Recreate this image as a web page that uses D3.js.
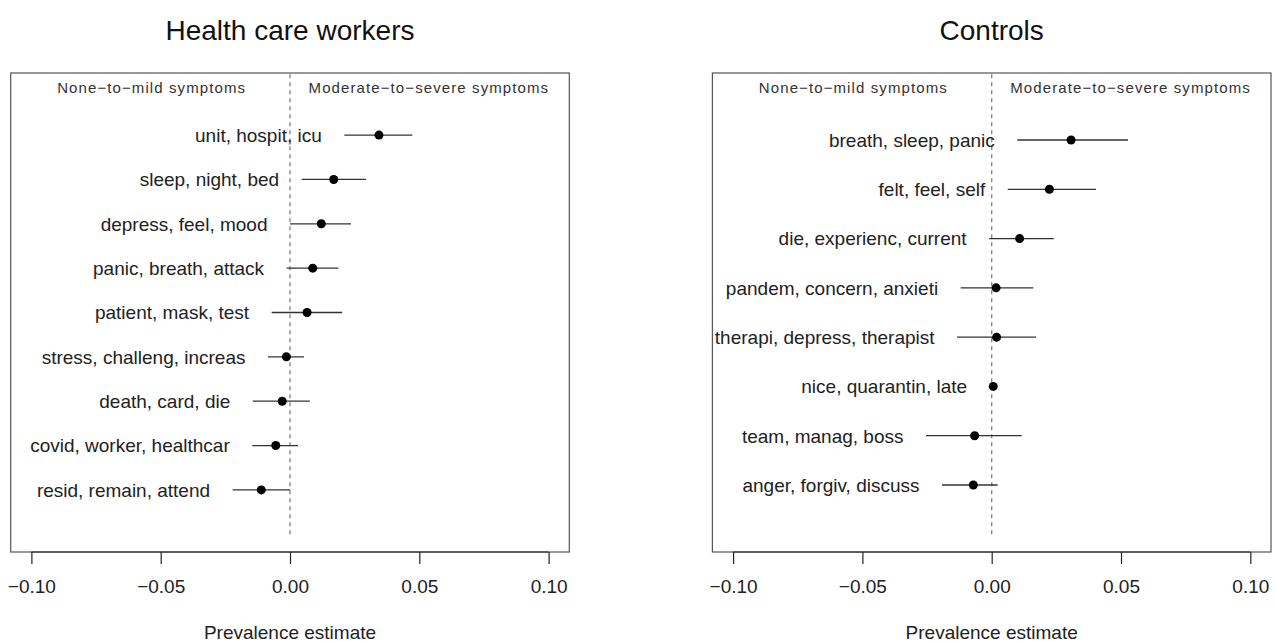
<!DOCTYPE html>
<html><head><meta charset="utf-8">
<script src="https://cdn.jsdelivr.net/npm/d3@7"></script>
<style>
body{margin:0;background:#fff}
text{font-family:"Liberation Sans",Arial,Helvetica,sans-serif}
</style>
</head><body>
<svg id="chart" width="1277" height="643"></svg>
<script>
// ---- data ----
const hcwLabels = ["unit, hospit, icu", "sleep, night, bed", "depress, feel, mood", "panic, breath, attack", "patient, mask, test", "stress, challeng, increas", "death, card, die", "covid, worker, healthcar", "resid, remain, attend"];
const hcwEst = [0.0344, 0.0169, 0.0121, 0.0088, 0.0066, -0.0014, -0.0030, -0.0055, -0.0111];
const hcwLo  = [0.0210, 0.0045, 0.0000, -0.0013, -0.0071, -0.0085, -0.0144, -0.0146, -0.0222];
const hcwHi  = [0.0473, 0.0294, 0.0236, 0.0187, 0.0202, 0.0054, 0.0077, 0.0031, 0.0000];

const ctlLabels = ["breath, sleep, panic", "felt, feel, self", "die, experienc, current", "pandem, concern, anxieti", "therapi, depress, therapist", "nice, quarantin, late", "team, manag, boss", "anger, forgiv, discuss"];
const ctlEst = [0.0307, 0.0223, 0.0108, 0.0017, 0.0019, 0.0006, -0.0066, -0.0071];
const ctlLo  = [0.0099, 0.0062, -0.0010, -0.0120, -0.0134, -0.0008, -0.0254, -0.0192];
const ctlHi  = [0.0527, 0.0403, 0.0240, 0.0161, 0.0171, 0.0018, 0.0116, 0.0023];

const xTicks = [-0.10, -0.05, 0.00, 0.05, 0.10];
const xTickLabels = ["\u22120.10", "\u22120.05", "0.00", "0.05", "0.10"];
const headerLeft = "None\u2212to\u2212mild symptoms";
const headerRight = "Moderate\u2212to\u2212severe symptoms";
const xLabel = "Prevalence estimate";

// ---- drawing ----
const svg = d3.select("#chart");

function panel(cfg) {
  const {left, right, top, bottom, title, labels, est, lo, hi} = cfg;
  const n = labels.length;
  const x = d3.scaleLinear().domain([-0.108, 0.108]).range([left, right]);
  const y = d3.scaleLinear().domain([-0.04 * (n + 1), (n + 1) * 1.04]).range([bottom, top]);
  const g = svg.append("g");

  // dashed zero line
  g.append("line")
    .attr("x1", x(0)).attr("x2", x(0))
    .attr("y1", y(0)).attr("y2", top)
    .attr("stroke", "#8a8a8a").attr("stroke-width", 1.4)
    .attr("stroke-dasharray", "4,4");

  // box
  g.append("rect")
    .attr("x", left).attr("y", top)
    .attr("width", right - left).attr("height", bottom - top)
    .attr("fill", "none").attr("stroke", "#555").attr("stroke-width", 1.2);

  // axis
  const axis = d3.axisBottom(x)
    .tickValues(xTicks)
    .tickFormat((d, i) => xTickLabels[i])
    .tickSize(12).tickPadding(16);
  const ax = g.append("g").attr("transform", `translate(0,${bottom})`).call(axis);
  ax.select(".domain").remove();
  ax.selectAll(".tick line").attr("stroke", "#222").attr("stroke-width", 1.2);
  ax.selectAll(".tick text").attr("font-size", 19).attr("fill", "#222")
    .attr("font-family", '"Liberation Sans",Arial,sans-serif');
  g.append("line")
    .attr("x1", x(xTicks[0])).attr("x2", x(xTicks[xTicks.length - 1]))
    .attr("y1", bottom).attr("y2", bottom)
    .attr("stroke", "#222").attr("stroke-width", 1.2);

  // headers
  g.append("text").attr("x", x(-0.0535)).attr("y", top + 20)
    .attr("text-anchor", "middle").attr("font-size", 15).attr("letter-spacing", 1.1)
    .attr("fill", "#333").text(headerLeft);
  g.append("text").attr("x", x(0.0537)).attr("y", top + 20)
    .attr("text-anchor", "middle").attr("font-size", 15).attr("letter-spacing", 1.1)
    .attr("fill", "#333").text(headerRight);

  const rows = labels.map((l, i) => ({label: l, est: est[i], lo: lo[i], hi: hi[i], pos: n - i}));

  // CI segments
  g.selectAll("line.ci").data(rows).enter().append("line")
    .attr("class", "ci")
    .attr("x1", d => x(d.lo)).attr("x2", d => x(d.hi))
    .attr("y1", d => y(d.pos)).attr("y2", d => y(d.pos))
    .attr("stroke", "#333").attr("stroke-width", 1.3);

  // points
  g.selectAll("circle.pt").data(rows).enter().append("circle")
    .attr("class", "pt")
    .attr("cx", d => x(d.est)).attr("cy", d => y(d.pos))
    .attr("r", 4.5).attr("fill", "#000");

  // labels
  g.selectAll("text.lab").data(rows).enter().append("text")
    .attr("class", "lab")
    .attr("x", d => x(d.lo) - 22.5).attr("y", d => y(d.pos))
    .attr("dy", "0.36em")
    .attr("text-anchor", "end").attr("font-size", 19).attr("fill", "#222")
    .text(d => d.label);

  // title
  g.append("text").attr("x", (left + right) / 2).attr("y", 40)
    .attr("text-anchor", "middle").attr("font-size", 28).attr("fill", "#111")
    .text(title);

  // x label
  g.append("text").attr("x", x(0)).attr("y", 639)
    .attr("text-anchor", "middle").attr("font-size", 19).attr("fill", "#222")
    .text(xLabel);
}

panel({left: 10.7, right: 569.3, top: 73, bottom: 552, title: "Health care workers",
       labels: hcwLabels, est: hcwEst, lo: hcwLo, hi: hcwHi});
panel({left: 712.4, right: 1271, top: 73, bottom: 552, title: "Controls",
       labels: ctlLabels, est: ctlEst, lo: ctlLo, hi: ctlHi});
</script>
</body></html>
